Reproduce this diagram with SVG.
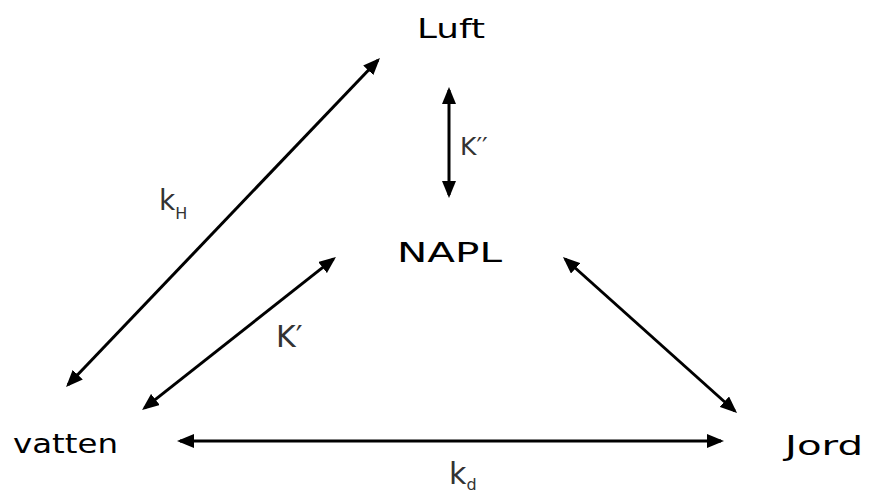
<svg xmlns="http://www.w3.org/2000/svg" width="869" height="497" viewBox="0 0 869 497">
<style>
.node { font-family: "DejaVu Sans", "Liberation Sans", sans-serif; font-size: 27px; fill: #000; }
.lbl { font-family: "DejaVu Sans", "Liberation Sans", sans-serif; fill: #333; font-weight: normal; }
.conn { stroke: #000; stroke-width: 3; fill: none; marker-start: url(#ah); marker-end: url(#ah); }
</style>
<defs>
<marker id="ah" viewBox="0 0 17 14" refX="14" refY="7" markerWidth="17" markerHeight="14" markerUnits="userSpaceOnUse" orient="auto-start-reverse">
<path d="M0,0 L17,7 L0,14 z" fill="#000"/>
</marker>
</defs>
<rect width="869" height="497" fill="#fff"/>
<g id="connectors">
<line class="conn" x1="377.9" y1="60.2" x2="68.1" y2="384.8"/>
<line class="conn" x1="333.6" y1="258.9" x2="144.4" y2="408.1"/>
<line class="conn" x1="565.2" y1="259" x2="734.8" y2="411"/>
<line class="conn" x1="180" y1="441" x2="721" y2="441"/>
<line class="conn" x1="449" y1="90" x2="449" y2="195"/>
</g>
<g id="luft"><text class="node" x="417" y="38" textLength="68" lengthAdjust="spacingAndGlyphs">Luft</text></g>
<g id="napl"><text class="node" x="397" y="262" textLength="105" lengthAdjust="spacingAndGlyphs">NAPL</text></g>
<g id="vatten"><text class="node" x="13" y="453" textLength="105" lengthAdjust="spacingAndGlyphs">vatten</text></g>
<g id="jord"><text class="node" x="785" y="455" textLength="78" lengthAdjust="spacingAndGlyphs">Jord</text></g>
<g id="labels">
<text class="lbl" x="159" y="210" font-size="28">k<tspan font-size="16" dy="9">H</tspan></text>
<text class="lbl" x="276" y="347" font-size="30">K′</text>
<text class="lbl" x="460" y="155" font-size="25">K′′</text>
<text class="lbl" x="449" y="484" font-size="30">k<tspan font-size="16" dy="6">d</tspan></text>
</g>
</svg>
